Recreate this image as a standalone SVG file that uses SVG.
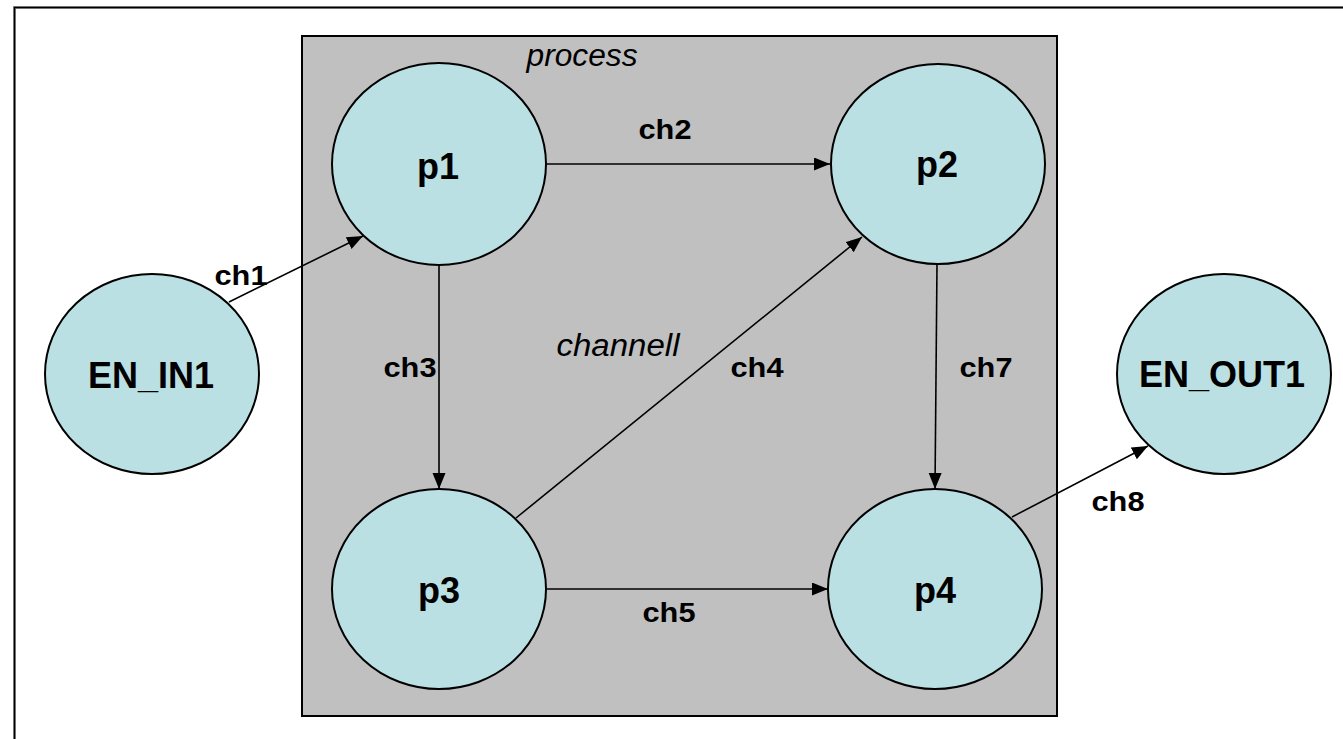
<svg xmlns="http://www.w3.org/2000/svg" width="1343" height="739" viewBox="0 0 1343 739">
  <style>
    .node { fill: #bae0e3; stroke: #000; stroke-width: 2; }
    .big { font-family: "Liberation Sans", Arial, sans-serif; font-weight: bold; font-size: 36px; text-anchor: middle; fill: #000; }
    .lbl { font-family: "Liberation Sans", Arial, sans-serif; font-weight: bold; font-size: 27px; text-anchor: middle; fill: #000; }
    .note { font-family: "Liberation Sans", Arial, sans-serif; font-style: italic; font-size: 31px; text-anchor: middle; fill: #000; }
    .edge { stroke: #000; stroke-width: 1.6; fill: none; marker-end: url(#arrow); }
  </style>
  <defs>
    <marker id="arrow" markerUnits="userSpaceOnUse" markerWidth="17" markerHeight="14" refX="16" refY="6.5" orient="auto">
      <path d="M0,0 L16,6.5 L0,13 z" fill="#000"/>
    </marker>
  </defs>

  <!-- page frame -->
  <rect x="0" y="0" width="1343" height="739" fill="#fff"/>
  <rect x="14.5" y="7.5" width="1400" height="800" fill="none" stroke="#999" stroke-width="3"/>
  <rect x="14.5" y="7.5" width="1400" height="800" fill="none" stroke="#000" stroke-width="1.5"/>

  <!-- process boundary -->
  <g id="process">
    <rect x="302" y="36" width="755" height="680" fill="#c0c0c0" stroke="#000" stroke-width="2"/>
    <text class="note" x="582" y="66" textLength="111" lengthAdjust="spacingAndGlyphs">process</text>
  </g>

  <!-- connectors -->
  <g id="connectors">
    <line class="edge" x1="229" y1="302" x2="363" y2="236"/>
    <line class="edge" x1="547" y1="164" x2="830" y2="164"/>
    <line class="edge" x1="439" y1="265" x2="439" y2="489"/>
    <line class="edge" x1="516" y1="518" x2="862" y2="237"/>
    <line class="edge" x1="937" y1="264" x2="935" y2="489"/>
    <line class="edge" x1="547" y1="589" x2="828" y2="589"/>
    <line class="edge" x1="1012" y1="517" x2="1148" y2="446"/>
    <text class="lbl" x="241" y="285" textLength="53" lengthAdjust="spacingAndGlyphs">ch1</text>
    <text class="lbl" x="665" y="139" textLength="53" lengthAdjust="spacingAndGlyphs">ch2</text>
    <text class="lbl" x="410" y="377" textLength="53" lengthAdjust="spacingAndGlyphs">ch3</text>
    <text class="lbl" x="757" y="377" textLength="53" lengthAdjust="spacingAndGlyphs">ch4</text>
    <text class="lbl" x="669" y="622" textLength="53" lengthAdjust="spacingAndGlyphs">ch5</text>
    <text class="lbl" x="986" y="377" textLength="53" lengthAdjust="spacingAndGlyphs">ch7</text>
    <text class="lbl" x="1118" y="511" textLength="53" lengthAdjust="spacingAndGlyphs">ch8</text>
    <text class="note" x="618" y="356" textLength="123" lengthAdjust="spacingAndGlyphs">channell</text>
  </g>

  <!-- nodes -->
  <g id="EN_IN1">
    <ellipse class="node" cx="152" cy="374" rx="107" ry="100"/>
    <text class="big" x="151" y="388">EN_IN1</text>
  </g>
  <g id="p1">
    <ellipse class="node" cx="439" cy="164" rx="107" ry="101"/>
    <text class="big" x="438" y="179">p1</text>
  </g>
  <g id="p2">
    <ellipse class="node" cx="938" cy="164" rx="107" ry="100"/>
    <text class="big" x="937" y="177">p2</text>
  </g>
  <g id="p3">
    <ellipse class="node" cx="439" cy="589" rx="107" ry="100"/>
    <text class="big" x="439" y="603">p3</text>
  </g>
  <g id="p4">
    <ellipse class="node" cx="935" cy="589" rx="107" ry="100"/>
    <text class="big" x="935" y="603">p4</text>
  </g>
  <g id="EN_OUT1">
    <ellipse class="node" cx="1224" cy="374" rx="107" ry="100"/>
    <text class="big" x="1222" y="387">EN_OUT1</text>
  </g>
</svg>
